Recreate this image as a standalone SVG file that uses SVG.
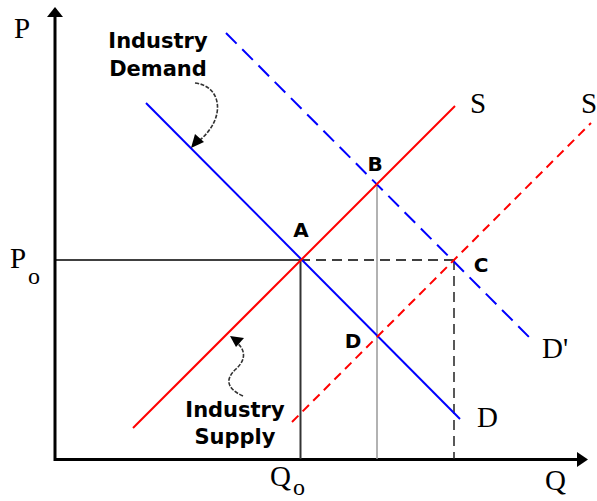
<svg xmlns="http://www.w3.org/2000/svg" width="597" height="501" viewBox="0 0 597 501">
<style>
.serif{font-family:"Liberation Serif","Times New Roman",serif;font-size:29px;fill:#000}
.sub{font-family:"Liberation Serif","Times New Roman",serif;font-size:24px;fill:#000}
.lbl{font-family:"DejaVu Sans",Verdana,sans-serif;font-weight:bold;font-size:20px;fill:#000;text-anchor:middle}
.note{font-family:"DejaVu Sans",Verdana,sans-serif;font-weight:bold;font-size:21px;fill:#000;text-anchor:middle}
.blue{stroke:#0000ff;stroke-width:2;fill:none}
.red{stroke:#ff0000;stroke-width:2;fill:none}
.curl{stroke:#333;stroke-width:1.6;fill:none;stroke-dasharray:4 1.5}
</style>
<rect width="597" height="501" fill="#fff"/>
<g id="axes">
<line x1="55" y1="14" x2="55" y2="461" stroke="#000" stroke-width="3"/>
<polygon points="55,7 47,17 63,17" fill="#000"/>
<line x1="54" y1="459.5" x2="578" y2="459.5" stroke="#000" stroke-width="3"/>
<polygon points="588,459.5 577,452 577,467" fill="#000"/>
<text class="serif" x="14" y="38">P</text>
<text class="serif" x="10" y="268">P</text><text class="sub" x="28" y="284">o</text>
<text class="serif" x="270" y="486">Q</text><text class="sub" x="293" y="495">o</text>
<text class="serif" x="545" y="490">Q</text>
</g>
<g id="connectors">
<line x1="55" y1="260" x2="300" y2="260" stroke="#000" stroke-width="1.5"/>
<line x1="300" y1="260" x2="454" y2="260" stroke="#000" stroke-width="1.5" stroke-dasharray="10,6"/>
<line x1="300.5" y1="260" x2="300.5" y2="459" stroke="#333" stroke-width="2"/>
<line x1="377" y1="184" x2="377" y2="459" stroke="#999" stroke-width="1.5"/>
<line x1="454" y1="260" x2="454" y2="459" stroke="#222" stroke-width="1.5" stroke-dasharray="10,6"/>
</g>
<g id="demand">
<line class="blue" x1="146" y1="103" x2="460" y2="419"/>
<text class="serif" x="477" y="427">D</text>
</g>
<g id="demand-shifted">
<line class="blue" x1="226" y1="33" x2="531" y2="339" stroke-dasharray="15,8"/>
<text class="serif" x="542" y="358">D'</text>
</g>
<g id="supply">
<line class="red" x1="133" y1="428" x2="455" y2="106"/>
<text class="serif" x="470" y="113">S</text>
</g>
<g id="supply-shifted">
<line class="red" x1="292" y1="422" x2="591" y2="123" stroke-dasharray="9,6"/>
<text class="serif" x="581" y="113">S</text>
</g>
<g id="points">
<text class="lbl" x="301" y="237">A</text>
<text class="lbl" x="375" y="171">B</text>
<text class="lbl" x="481" y="272">C</text>
<text class="lbl" x="353" y="348">D</text>
</g>
<g id="industry-demand">
<text class="note" x="158" y="48">Industry</text>
<text class="note" x="158" y="76">Demand</text>
<path class="curl" d="M195 83 C222 86 226 118 200 140"/>
<polygon points="191,148 195,134 204,142" fill="#000"/>
</g>
<g id="industry-supply">
<text class="note" x="235" y="417">Industry</text>
<text class="note" x="235" y="444">Supply</text>
<path class="curl" d="M243 396 C225 388 226 378 236 369 C247 359 245 349 236 342"/>
<polygon points="230,336 244,338 236,347" fill="#000"/>
</g>
</svg>
